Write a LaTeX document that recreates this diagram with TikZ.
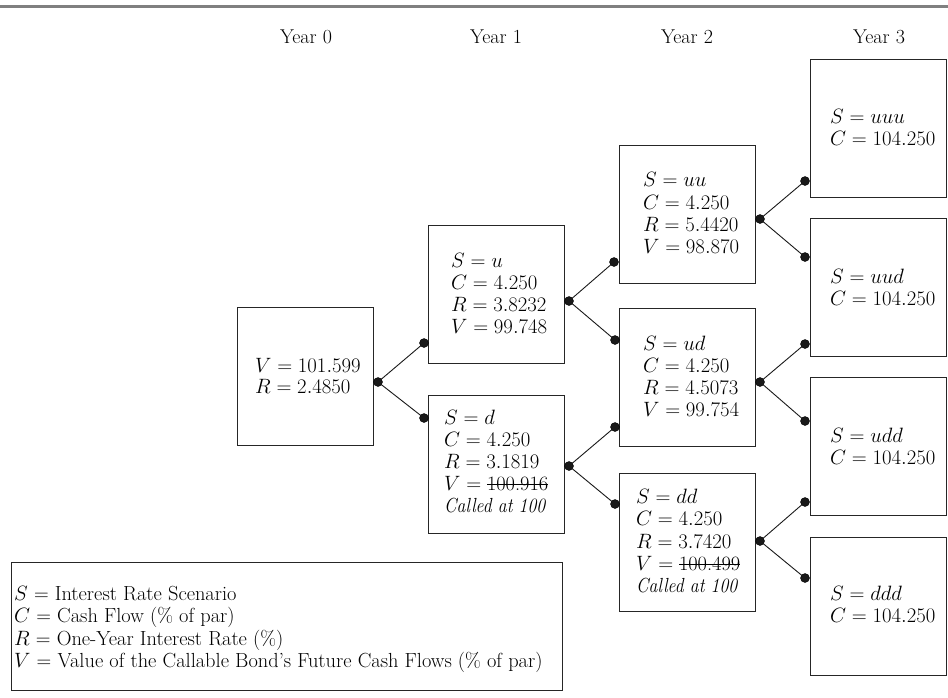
\documentclass[tikz,border=0pt]{standalone}
\newsavebox{\strkbox}
\newcommand{\mystrike}[1]{\sbox{\strkbox}{#1}\rlap{\rule[0.6ex]{\wd\strkbox}{0.05em}}\usebox{\strkbox}}
\newcommand{\calledtxt}{\scalebox{0.87}[1]{Called at 100}}
\begin{document}
\begin{tikzpicture}[x=1pt,y=-1pt,
  bx/.style={draw=black!85, line width=1.1pt, inner sep=0pt, anchor=north west, minimum width=136pt, minimum height=138pt},
  txt/.style={anchor=base west, inner sep=0pt, font=\fontsize{20.4}{22}\selectfont},
  called/.style={anchor=base west, inner sep=0pt, font=\fontsize{20.4}{22}\selectfont\itshape},
  yr/.style={anchor=base, inner sep=0pt, font=\fontsize{20}{22}\selectfont},
  dot/.style={circle, fill=black!90, draw=black, line width=0.4pt, inner sep=0pt, minimum size=9pt},
  con/.style={line width=0.9pt, draw=black!90}]
\useasboundingbox (0,0) rectangle (948,697);
% top rule
\coordinate (ruleL) at (0,6);
\coordinate (ruleR) at (948,6);
\draw[line width=3pt, black!50] (ruleL) -- (ruleR);
% year labels
\node[yr] (y0) at (306,43) {Year 0};
\node[yr] (y1) at (496,43) {Year 1};
\node[yr] (y2) at (687,43) {Year 2};
\node[yr] (y3) at (879,43) {Year 3};
% boxes
\node[bx] (bV0) at (237,307) {};
\node[bx] (bu) at (428,225) {};
\node[bx] (bd) at (428,395) {};
\node[bx] (buu) at (619,145) {};
\node[bx] (bud) at (619,308) {};
\node[bx] (bdd) at (619,473) {};
\node[bx] (buuu) at (810,59) {};
\node[bx] (buud) at (810,218) {};
\node[bx] (budd) at (810,377) {};
\node[bx] (bddd) at (810,537) {};
\node[bx, minimum width=551pt, minimum height=128pt] (bleg) at (11,562) {};
% texts V0
\node[txt] (tV0a) at (255,372) {$V = 101.599$};
\node[txt] (tV0b) at (255,393) {$R = 2.4850$};
% u
\node[txt] (tua) at (451,267) {$S = u$};
\node[txt] (tub) at (451,289) {$C = 4.250$};
\node[txt] (tuc) at (451,311) {$R = 3.8232$};
\node[txt] (tud) at (451,333) {$V = 99.748$};
% d
\node[txt] (tda) at (444,424) {$S = d$};
\node[txt] (tdb) at (444,446) {$C = 4.250$};
\node[txt] (tdc) at (444,468) {$R = 3.1819$};
\node[txt] (tdd) at (444,490) {$V = {}$\mystrike{100.916}};
\node[called] (tde) at (444,512) {\calledtxt};
% uu
\node[txt] (tuua) at (643,186) {$S = uu$};
\node[txt] (tuub) at (643,209) {$C = 4.250$};
\node[txt] (tuuc) at (643,231) {$R = 5.4420$};
\node[txt] (tuud) at (643,253) {$V = 98.870$};
% ud
\node[txt] (tuda) at (643,350) {$S = ud$};
\node[txt] (tudb) at (643,372) {$C = 4.250$};
\node[txt] (tudc) at (643,394) {$R = 4.5073$};
\node[txt] (tudd) at (643,416) {$V = 99.754$};
% dd
\node[txt] (tdda) at (636,503) {$S = dd$};
\node[txt] (tddb) at (636,525) {$C = 4.250$};
\node[txt] (tddc) at (636,548) {$R = 3.7420$};
\node[txt] (tddd) at (636,570) {$V = {}$\mystrike{100.499}};
\node[called] (tdde) at (636,592) {\calledtxt};
% year 3
\node[txt] (tuuua) at (830,123) {$S = uuu$};
\node[txt] (tuuub) at (830,145) {$C = 104.250$};
\node[txt] (tuuda) at (830,283) {$S = uud$};
\node[txt] (tuudb) at (830,305) {$C = 104.250$};
\node[txt] (tudda) at (830,442) {$S = udd$};
\node[txt] (tuddb) at (830,464) {$C = 104.250$};
\node[txt] (tddda) at (830,600) {$S = ddd$};
\node[txt] (tdddb) at (830,622) {$C = 104.250$};
% legend
\node[txt] (la) at (14,600) {$S$ = Interest Rate Scenario};
\node[txt] (lb) at (14,622) {$C$ = Cash Flow (\% of par)};
\node[txt] (lc) at (14,645) {$R$ = One-Year Interest Rate (\%)};
\node[txt] (ld) at (14,667) {$V$ = Value of the Callable Bond's Future Cash Flows (\% of par)};
% dots
\node[dot] (V0r) at (378,382) {};
\node[dot] (uL) at (424,343) {};
\node[dot] (dL) at (424,418) {};
\node[dot] (uR) at (569,301) {};
\node[dot] (uuL) at (614,262) {};
\node[dot] (udL1) at (615,340) {};
\node[dot] (dR) at (569,466) {};
\node[dot] (udL2) at (615,427) {};
\node[dot] (ddL) at (615,504) {};
\node[dot] (uuR) at (760,219) {};
\node[dot] (uuuL) at (805,181) {};
\node[dot] (uudL1) at (805,257) {};
\node[dot] (udR) at (760,382) {};
\node[dot] (uudL2) at (805,344) {};
\node[dot] (uddL1) at (805,421) {};
\node[dot] (ddR) at (760,541) {};
\node[dot] (uddL2) at (805,502) {};
\node[dot] (dddL) at (805,578) {};
% connectors
\draw[con] (V0r.center) -- (uL.center);
\draw[con] (V0r.center) -- (dL.center);
\draw[con] (uR.center) -- (uuL.center);
\draw[con] (uR.center) -- (udL1.center);
\draw[con] (dR.center) -- (udL2.center);
\draw[con] (dR.center) -- (ddL.center);
\draw[con] (uuR.center) -- (uuuL.center);
\draw[con] (uuR.center) -- (uudL1.center);
\draw[con] (udR.center) -- (uudL2.center);
\draw[con] (udR.center) -- (uddL1.center);
\draw[con] (ddR.center) -- (uddL2.center);
\draw[con] (ddR.center) -- (dddL.center);
\end{tikzpicture}
\end{document}
